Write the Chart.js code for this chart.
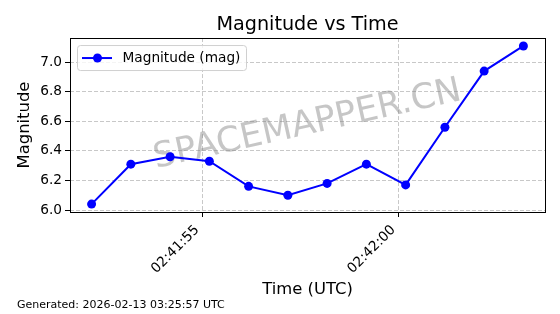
<!DOCTYPE html>
<html>
<head>
<meta charset="utf-8">
<script src="https://cdn.jsdelivr.net/npm/chart.js@4/dist/chart.umd.min.js"></script>
<style>
  html, body { margin: 0; padding: 0; background: #fff; }
  #wrap { position: relative; width: 560px; height: 314px; }
  canvas { display: block; }
</style>
</head>
<body>
<div id="wrap"><canvas id="c" width="560" height="314"></canvas></div>
<script>
// ---- data ----
const times = ['02:41:52.17','02:41:53.17','02:41:54.17','02:41:55.17','02:41:56.17','02:41:57.17',
               '02:41:58.17','02:41:59.17','02:42:00.17','02:42:01.17','02:42:02.17','02:42:03.17'];
const magnitudes = [6.04, 6.31, 6.36, 6.33, 6.16, 6.10, 6.18, 6.31, 6.17, 6.56, 6.94, 7.11];
const xTickLabels = ['02:41:55', '02:42:00'];
const yTickValues = [6.0, 6.2, 6.4, 6.6, 6.8, 7.0];
const seriesLabel = 'Magnitude (mag)';
const chartTitle = 'Magnitude vs Time';
const xTitle = 'Time (UTC)';
const yTitle = 'Magnitude';
const watermark = 'SPACEMAPPER.CN';
const footer = 'Generated: 2026-02-13 03:25:57 UTC';

function toSec(s) {
  const p = s.split(':');
  return (+p[0]) * 3600 + (+p[1]) * 60 + parseFloat(p[2]);
}
function fmt(sec) {
  const s = Math.round(sec);
  const h = Math.floor(s / 3600), m = Math.floor((s % 3600) / 60), ss = s % 60;
  const pad = v => String(v).padStart(2, '0');
  return pad(h) + ':' + pad(m) + ':' + pad(ss);
}

const points = times.map((t, i) => ({ x: toSec(t), y: magnitudes[i] }));
const xs = points.map(p => p.x);
const xMinD = Math.min(...xs), xMaxD = Math.max(...xs);
const yMinD = Math.min(...magnitudes), yMaxD = Math.max(...magnitudes);
const xm = (xMaxD - xMinD) * 0.05, ym = (yMaxD - yMinD) * 0.05;

const FONT = "'DejaVu Sans', sans-serif";
const BLUE = '#0000ff';

const decor = {
  id: 'decor',
  beforeDraw(chart) {
    const ctx = chart.ctx;
    ctx.save();
    ctx.fillStyle = '#ffffff';
    ctx.fillRect(0, 0, chart.width, chart.height);
    ctx.restore();
  },
  beforeDatasetsDraw(chart) {
    const { ctx, chartArea: a } = chart;
    ctx.save();
    ctx.translate((a.left + a.right) / 2, (a.top + a.bottom) / 2);
    ctx.rotate(-12.5 * Math.PI / 180);
    ctx.font = '35px ' + FONT;
    ctx.fillStyle = 'rgba(128,128,128,0.45)';
    ctx.textAlign = 'center';
    ctx.textBaseline = 'middle';
    ctx.fillText(watermark, 0, 0);
    ctx.restore();
  },
  afterDraw(chart) {
    const { ctx, chartArea: a } = chart;
    ctx.save();
    // frame
    ctx.strokeStyle = '#000';
    ctx.lineWidth = 1;
    ctx.strokeRect(Math.round(a.left) + 0.5, Math.round(a.top) + 0.5,
                   Math.round(a.right - a.left), Math.round(a.bottom - a.top));
    // legend
    const ds = chart.data.datasets[0];
    const bx = a.left + 7.5, by = a.top + 7.5, bw = 169, bh = 25, r = 3;
    ctx.beginPath();
    ctx.moveTo(bx + r, by);
    ctx.lineTo(bx + bw - r, by);
    ctx.quadraticCurveTo(bx + bw, by, bx + bw, by + r);
    ctx.lineTo(bx + bw, by + bh - r);
    ctx.quadraticCurveTo(bx + bw, by + bh, bx + bw - r, by + bh);
    ctx.lineTo(bx + r, by + bh);
    ctx.quadraticCurveTo(bx, by + bh, bx, by + bh - r);
    ctx.lineTo(bx, by + r);
    ctx.quadraticCurveTo(bx, by, bx + r, by);
    ctx.closePath();
    ctx.fillStyle = 'rgba(255,255,255,0.8)';
    ctx.fill();
    ctx.strokeStyle = '#d0d0d0';
    ctx.lineWidth = 1;
    ctx.stroke();
    const ly = by + bh / 2;
    ctx.strokeStyle = ds.borderColor;
    ctx.lineWidth = ds.borderWidth;
    ctx.beginPath();
    ctx.moveTo(bx + 4.5, ly);
    ctx.lineTo(bx + 34.5, ly);
    ctx.stroke();
    ctx.fillStyle = ds.pointBackgroundColor;
    ctx.beginPath();
    ctx.arc(bx + 20, ly, ds.pointRadius, 0, Math.PI * 2);
    ctx.fill();
    ctx.fillStyle = '#000';
    ctx.font = '13.7px ' + FONT;
    ctx.textAlign = 'left';
    ctx.textBaseline = 'middle';
    ctx.fillText(ds.label, bx + 45, ly);
    // footer
    ctx.font = '11px ' + FONT;
    ctx.fillStyle = '#000';
    ctx.textBaseline = 'middle';
    ctx.fillText(footer, 17, 305);
    ctx.restore();
  }
};

new Chart(document.getElementById('c'), {
  type: 'line',
  data: {
    datasets: [{
      label: seriesLabel,
      data: points,
      borderColor: BLUE,
      backgroundColor: BLUE,
      pointBackgroundColor: BLUE,
      pointBorderColor: BLUE,
      pointBorderWidth: 0,
      pointRadius: 4.5,
      borderWidth: 2,
      tension: 0,
      fill: false
    }]
  },
  options: {
    responsive: false,
    devicePixelRatio: 1,
    animation: false,
    events: [],
    layout: { padding: { top: 0, right: 15, bottom: 14, left: 0 } },
    plugins: {
      legend: { display: false },
      tooltip: { enabled: false },
      title: {
        display: true,
        text: chartTitle,
        fullSize: false,
        color: '#000',
        font: { family: FONT, size: 19.2, weight: 'normal' },
        padding: { top: 13, bottom: 2 }
      }
    },
    scales: {
      x: {
        type: 'linear',
        min: xMinD - xm,
        max: xMaxD + xm,
        afterBuildTicks(scale) { scale.ticks = xTickLabels.map(l => ({ value: toSec(l) })); },
        afterFit(scale) { scale.height = 88; },
        ticks: {
          autoSkip: false,
          minRotation: 45,
          maxRotation: 45,
          labelOffset: -5.5,
          padding: 5,
          color: '#000',
          font: { family: FONT, size: 13.7 },
          callback: v => fmt(v)
        },
        grid: {
          color: 'rgba(176,176,176,0.7)',
          lineWidth: 1,
          borderDash: [4, 2],
          tickColor: '#000',
          tickWidth: 1,
          tickLength: 5,
          tickBorderDash: []
        },
        border: { display: false, dash: [4, 2] },
        title: {
          display: true,
          text: xTitle,
          color: '#000',
          font: { family: FONT, size: 16.4 },
          padding: { top: 0, bottom: 0 }
        }
      },
      y: {
        type: 'linear',
        min: yMinD - ym,
        max: yMaxD + ym,
        afterBuildTicks(scale) { scale.ticks = yTickValues.map(v => ({ value: v })); },
        afterFit(scale) { scale.width = 70; },
        ticks: {
          padding: 3,
          color: '#000',
          font: { family: FONT, size: 13.7 },
          callback: v => Number(v).toFixed(1)
        },
        grid: {
          color: 'rgba(176,176,176,0.7)',
          lineWidth: 1,
          borderDash: [4, 2],
          tickColor: '#000',
          tickWidth: 1,
          tickLength: 5,
          tickBorderDash: []
        },
        border: { display: false, dash: [4, 2] },
        title: {
          display: true,
          text: yTitle,
          color: '#000',
          font: { family: FONT, size: 16.4 },
          padding: { top: 15, bottom: 0 }
        }
      }
    }
  },
  plugins: [decor]
});
</script>
</body>
</html>
